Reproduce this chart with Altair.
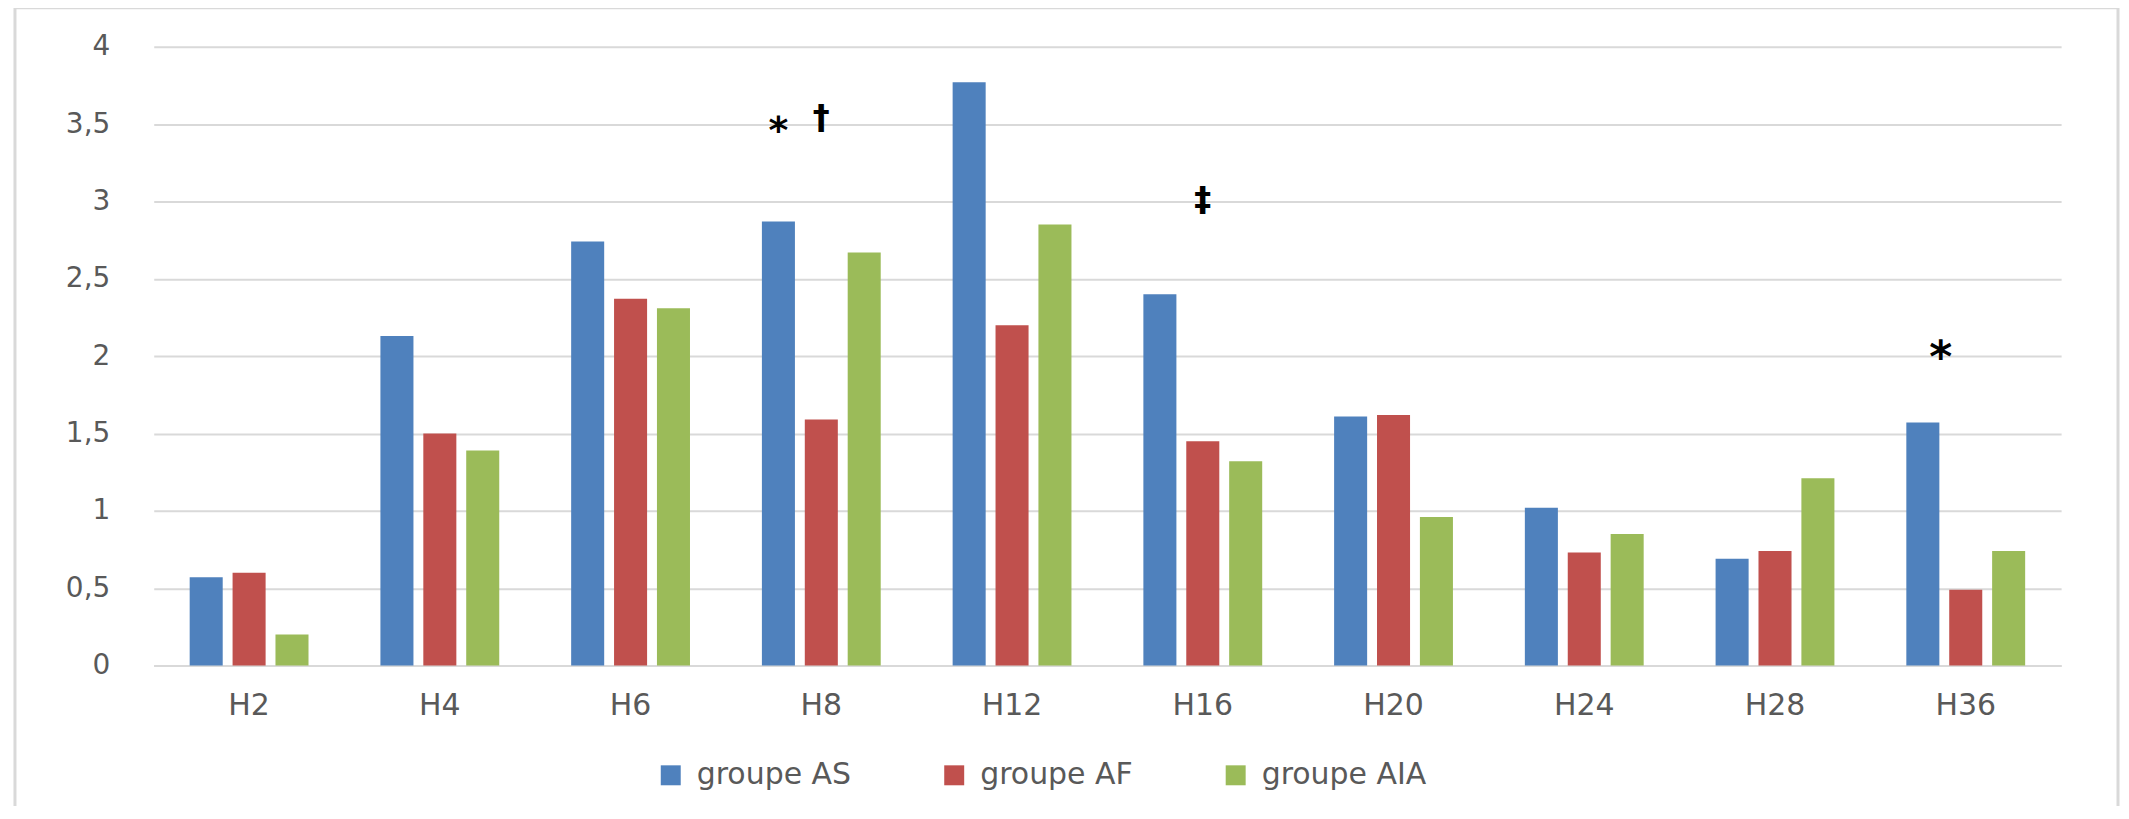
import altair as alt
import pandas as pd

categories = ["H2", "H4", "H6", "H8", "H12", "H16", "H20", "H24", "H28", "H36"]
groups = ["groupe AS", "groupe AF", "groupe AIA"]
as_values = [0.57, 2.13, 2.74, 2.87, 3.77, 2.40, 1.61, 1.02, 0.69, 1.57]
af_values = [0.60, 1.50, 2.37, 1.59, 2.20, 1.45, 1.62, 0.73, 0.74, 0.49]
aia_values = [0.20, 1.39, 2.31, 2.67, 2.85, 1.32, 0.96, 0.85, 1.21, 0.74]
colors = ["#4F81BD", "#C0504D", "#9BBB59"]
y_ticks = [0, 0.5, 1, 1.5, 2, 2.5, 3, 3.5, 4]

annot_labels = ["*", "†", "‡", "*"]
annot_cats = ["H8", "H8", "H16", "H36"]
annot_groups = ["groupe AS", "groupe AF", "groupe AF", "groupe AS"]
annot_y = [3.45, 3.53, 3.0, 1.98]

rows = []
for g, vals in zip(groups, [as_values, af_values, aia_values]):
    for c, v in zip(categories, vals):
        rows.append({"cat": c, "group": g, "value": v})
df = pd.DataFrame(rows)
ann = pd.DataFrame({"cat": annot_cats, "group": annot_groups, "label": annot_labels, "y": annot_y})

font = "DejaVu Sans"
gray = "#595959"

x_enc = alt.X("cat:N", sort=categories, title=None,
              scale=alt.Scale(paddingInner=0.377, paddingOuter=0.1885),
              axis=alt.Axis(labelAngle=0, ticks=False, domainColor="#D9D9D9", domainWidth=2,
                            labelFont=font, labelFontSize=30, labelColor=gray,
                            labelBaseline="middle", labelPadding=40))
xoff = alt.XOffset("group:N", sort=groups, scale=alt.Scale(paddingInner=0.23, paddingOuter=0))

bars = alt.Chart(df).mark_bar().encode(
    x=x_enc,
    xOffset=xoff,
    y=alt.Y("value:Q", title=None, scale=alt.Scale(domain=[0, 4], nice=False),
            axis=alt.Axis(values=y_ticks, ticks=False, domain=False, gridColor="#D9D9D9",
                          gridWidth=2, labelFont=font, labelFontSize=28, labelColor=gray,
                          labelPadding=44, labelExpr="replace(format(datum.value, ''), '.', ',')")),
    color=alt.Color("group:N", sort=groups, scale=alt.Scale(domain=groups, range=colors),
                    legend=alt.Legend(title=None, orient="none", direction="horizontal",
                                      legendX=503, legendY=715, symbolType="square",
                                      symbolSize=400, symbolStrokeWidth=0, labelFont=font,
                                      labelFontSize=30, labelColor=gray, labelOffset=11,
                                      labelLimit=400, columnPadding=88)),
)

base_text = alt.Chart(ann).encode(
    x=alt.X("cat:N", sort=categories),
    xOffset=alt.XOffset("group:N", sort=groups),
    y=alt.Y("y:Q"),
    text="label:N",
)

star_h8 = base_text.transform_filter("datum.label == '*' && datum.cat == 'H8'").mark_text(
    fontSize=38, fontWeight="bold", font=font, color="black", baseline="middle")
star_h36 = base_text.transform_filter("datum.label == '*' && datum.cat == 'H36'").mark_text(
    fontSize=44, fontWeight="bold", font=font, color="black", baseline="middle", dx=18)
daggers = base_text.transform_filter("datum.label != '*'").mark_text(
    fontSize=34, fontWeight="bold", font=font, color="black", baseline="middle")

frame = alt.Chart(alt.Data(values=[{"f": 1}])).mark_rect(
    fill="transparent", stroke="#D9D9D9", strokeWidth=3).encode(
    x=alt.value(-139), x2=alt.value(1968), y=alt.value(-39), y2=alt.value(820))

chart = alt.layer(frame, bars, star_h8, star_h36, daggers).properties(
    width=1911, height=620,
    autosize=alt.AutoSizeParams(type="none"),
    padding={"left": 146, "top": 38, "right": 60, "bottom": 140},
).configure_view(stroke=None)

chart.save("out.html", embed_options={"renderer": "svg", "actions": False})
